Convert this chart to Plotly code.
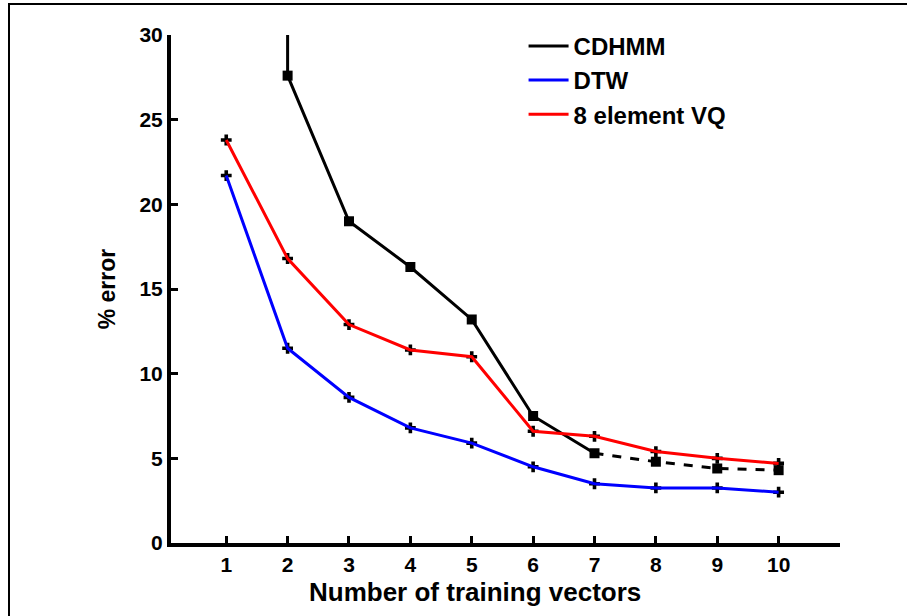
import plotly.graph_objects as go

# ---- data ----
x_vals = [1, 2, 3, 4, 5, 6, 7, 8, 9, 10]
x_ticks = [1, 2, 3, 4, 5, 6, 7, 8, 9, 10]
y_ticks = [0, 5, 10, 15, 20, 25, 30]

cdhmm_x = [2, 2, 3, 4, 5, 6, 7]
cdhmm_y = [30.0, 27.6, 19.0, 16.3, 13.2, 7.5, 5.3]
cdhmm_tail_x = [7, 8, 9, 10]
cdhmm_tail_y = [5.3, 4.8, 4.4, 4.3]

dtw_y = [21.7, 11.5, 8.6, 6.8, 5.9, 4.5, 3.5, 3.25, 3.25, 3.0]
vq_y = [23.8, 16.8, 12.9, 11.4, 11.0, 6.6, 6.3, 5.4, 5.0, 4.7]

names = ["CDHMM", "DTW", "8 element VQ"]
colors = ["#000000", "#0000FF", "#FF0000"]
x_title = "Number of training vectors"
y_title = "% error"

FONT = "Liberation Sans, Arial, sans-serif"

fig = go.Figure()

# black point markers (drawn beneath the coloured lines)
fig.add_trace(go.Scatter(x=cdhmm_x[1:] + cdhmm_tail_x[1:], y=cdhmm_y[1:] + cdhmm_tail_y[1:],
                         mode="markers", marker=dict(symbol="square", size=10, color="black"),
                         showlegend=False, hoverinfo="skip"))
fig.add_trace(go.Scatter(x=x_vals, y=dtw_y, mode="markers",
                         marker=dict(symbol="cross", size=9, color="black"),
                         showlegend=False, hoverinfo="skip"))
fig.add_trace(go.Scatter(x=x_vals, y=vq_y, mode="markers",
                         marker=dict(symbol="cross", size=9, color="black"),
                         showlegend=False, hoverinfo="skip"))

# lines
fig.add_trace(go.Scatter(x=cdhmm_x, y=cdhmm_y, mode="lines", name=names[0],
                         line=dict(color=colors[0], width=3), legendgroup="a"))
fig.add_trace(go.Scatter(x=cdhmm_tail_x, y=cdhmm_tail_y, mode="lines", name=names[0],
                         line=dict(color=colors[0], width=3, dash="dash"),
                         showlegend=False, legendgroup="a"))
fig.add_trace(go.Scatter(x=x_vals, y=dtw_y, mode="lines", name=names[1],
                         line=dict(color=colors[1], width=3), legendgroup="b"))
fig.add_trace(go.Scatter(x=x_vals, y=vq_y, mode="lines", name=names[2],
                         line=dict(color=colors[2], width=3), legendgroup="c"))

fig.update_layout(
    width=907, height=616,
    margin=dict(l=171, r=67, t=35, b=73, pad=0),
    paper_bgcolor="white", plot_bgcolor="white",
    font=dict(family=FONT, color="black", size=20),
    showlegend=True,
    legend=dict(x=0.527, y=1.022, xanchor="left", yanchor="top",
                font=dict(family=FONT, size=24, color="black", weight="bold"),
                bgcolor="rgba(0,0,0,0)", itemwidth=40, tracegroupgap=0),
    xaxis=dict(range=[0.1, 11.0], tickmode="array", tickvals=x_ticks,
               ticktext=[str(v) for v in x_ticks],
               showline=True, linecolor="black", linewidth=4,
               ticks="inside", ticklen=7, tickwidth=3, tickcolor="black",
               showgrid=False, zeroline=False,
               tickfont=dict(family=FONT, size=21, weight="bold")),
    yaxis=dict(range=[0, 30], tickmode="array", tickvals=y_ticks,
               ticktext=[str(v) for v in y_ticks],
               showline=True, linecolor="black", linewidth=4,
               ticks="inside", ticklen=7, tickwidth=3, tickcolor="black",
               showgrid=False, zeroline=False,
               tickfont=dict(family=FONT, size=21, weight="bold"),
               title=dict(text=y_title,
                          font=dict(family=FONT, size=23, weight="bold"), standoff=18)),
    annotations=[dict(text=x_title, xref="paper", yref="paper",
                      x=(475 - 171) / 669, y=-(592 - 543) / 508,
                      xanchor="center", yanchor="middle", showarrow=False,
                      font=dict(family=FONT, size=26, weight="bold", color="black"))],
    shapes=[dict(type="rect", xref="paper", yref="paper",
                 x0=(9 - 171) / 669, x1=1.3, y0=-0.3, y1=(543 - 4) / 508,
                 line=dict(color="black", width=2), fillcolor="rgba(0,0,0,0)", layer="below")],
)

fig.write_html("out.html")
